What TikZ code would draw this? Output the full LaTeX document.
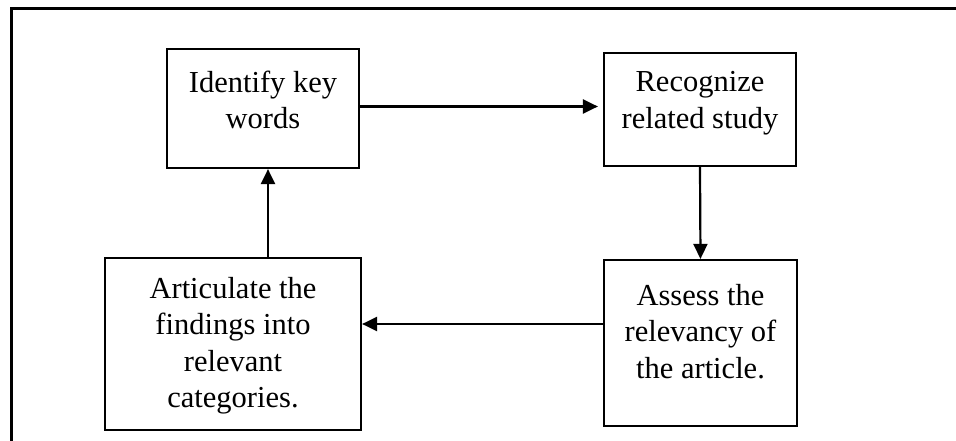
\documentclass[tikz,border=0pt]{standalone}
\usepackage{fontspec}
\setmainfont{Liberation Serif}
\usetikzlibrary{arrows.meta}
\tikzset{
  box/.style={draw, line width=2.2pt, inner sep=0pt},
  txt/.style={anchor=north, inner sep=0pt, align=center, font=\fontsize{30.5}{36.5}\selectfont},
  arr/.style={line width=2.2pt, -{Triangle[length=15pt,width=14pt]}},
  frame/.style={line width=2.4pt}
}
\begin{document}
\begin{tikzpicture}[x=1pt,y=-1pt]
\useasboundingbox (0,0) rectangle (956,441);
% frame
\coordinate (fa) at (11.5,441);
\coordinate (fb) at (11.5,8.5);
\coordinate (fc) at (956,8.5);
\draw[frame] (fa) -- (fb) -- (fc);
% boxes
\node[box, minimum width=192pt, minimum height=119pt] (b1) at (263,108.5) {};
\node[box, minimum width=192pt, minimum height=113pt] (b2) at (700,109.5) {};
\node[box, minimum width=193pt, minimum height=166pt] (b3) at (700.5,343) {};
\node[box, minimum width=256pt, minimum height=172pt] (b4) at (233,344) {};
% texts
\node[txt] (t1) at (263,70.5) {Identify key\\words};
\node[txt] (t2) at (700,71.5) {Recognize\\related study};
\node[txt] (t3) at (700.5,284) {Assess the\\relevancy of\\the article.};
\node[txt] (t4) at (233,277) {Articulate the\\findings into\\relevant\\categories.};
% connectors
\coordinate (p1) at ([yshift=2pt]b1.east);
\draw[arr, shorten >=5pt] (p1) -- (p1 -| b2.west);
\draw[arr] (b2.south) -- (b3.north);
\coordinate (p3) at ([yshift=19pt]b3.west);
\draw[arr] (p3) -- (p3 -| b4.east);
\coordinate (p4) at ([xshift=35pt]b4.north);
\draw[arr] (p4) -- (p4 |- b1.south);
\end{tikzpicture}
\end{document}
